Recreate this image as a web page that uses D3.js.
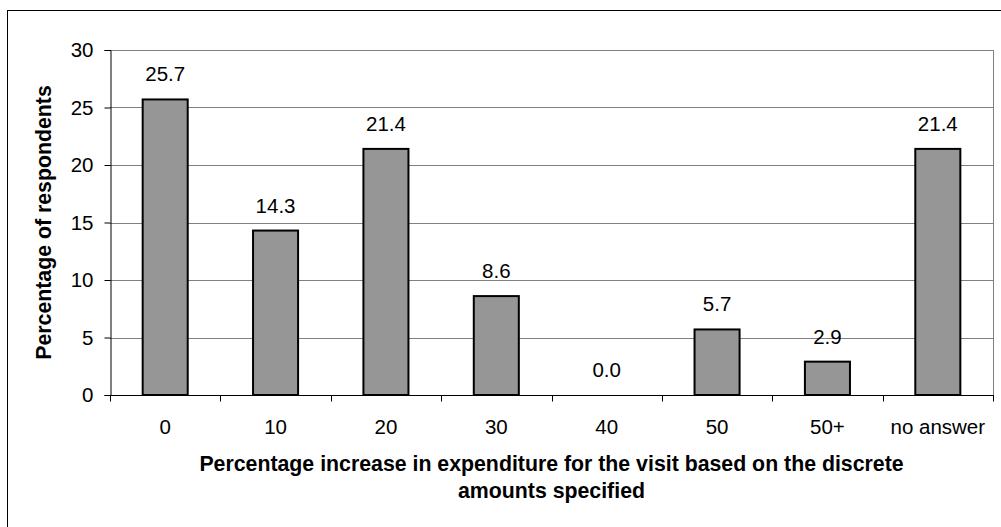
<!DOCTYPE html>
<html>
<head>
<meta charset="utf-8">
<script src="https://cdn.jsdelivr.net/npm/d3@7"></script>
<style>
  html, body { margin: 0; padding: 0; background: #fff; }
  svg { display: block; font-family: "Liberation Sans", Arial, sans-serif; }
</style>
</head>
<body>
<svg id="chart" width="1001" height="527"></svg>
<script>
// Survey responses: share of respondents per stated increase in spending
const categories = ["0", "10", "20", "30", "40", "50", "50+", "no answer"];
const percentages = [25.7, 14.3, 21.4, 8.6, 0.0, 5.7, 2.9, 21.4];
const yTicks = [0, 5, 10, 15, 20, 25, 30];
const xTitleLines = [
  "Percentage increase in expenditure for the visit based on the discrete",
  "amounts specified"
];
const yTitle = "Percentage of respondents";

const svg = d3.select("#chart");
const plot = { left: 110, right: 993, top: 50, bottom: 395 };
const labelSize = 20.5;
const titleSize = 21.3;

// Outer chart frame
svg.append("rect")
  .attr("x", 7.5).attr("y", 10.5)
  .attr("width", 1000).attr("height", 530)
  .attr("fill", "#fff").attr("stroke", "#000").attr("stroke-width", 1);

const x = d3.scaleBand()
  .domain(categories)
  .range([plot.left, plot.right])
  .paddingInner(0.592)
  .paddingOuter(0.296);

const y = d3.scaleLinear()
  .domain([0, 30])
  .range([plot.bottom, plot.top]);

// Horizontal gridlines
svg.append("g")
  .selectAll("line")
  .data(yTicks.filter(d => d > 0))
  .join("line")
  .attr("x1", plot.left).attr("x2", plot.right)
  .attr("y1", d => Math.round(y(d)) + 0.5).attr("y2", d => Math.round(y(d)) + 0.5)
  .attr("stroke", "#808080").attr("stroke-width", 1);

// Right edge of plot area
svg.append("line")
  .attr("x1", plot.right + 0.5).attr("x2", plot.right + 0.5)
  .attr("y1", y(30)).attr("y2", plot.bottom)
  .attr("stroke", "#808080").attr("stroke-width", 1);

// Bars
svg.append("g")
  .selectAll("rect")
  .data(categories.map((c, i) => ({ c, v: percentages[i] })))
  .join("rect")
  .attr("x", d => x(d.c))
  .attr("y", d => y(d.v))
  .attr("width", x.bandwidth())
  .attr("height", d => y(0) - y(d.v))
  .attr("fill", "#969696")
  .attr("stroke", "#000")
  .attr("stroke-width", 2);

// Value labels
svg.append("g")
  .selectAll("text")
  .data(categories.map((c, i) => ({ c, v: percentages[i] })))
  .join("text")
  .attr("x", d => x(d.c) + x.bandwidth() / 2)
  .attr("y", d => y(d.v) - 18)
  .attr("text-anchor", "middle")
  .attr("font-size", labelSize)
  .attr("fill", "#000")
  .text(d => d.v.toFixed(1));

// Y axis
const yAxis = d3.axisLeft(y).tickValues(yTicks).tickSize(6).tickPadding(11);
const gy = svg.append("g")
  .attr("transform", `translate(${plot.left + 0.5},0)`)
  .call(yAxis);
gy.select(".domain").attr("stroke", "#000");
gy.selectAll(".tick line").attr("stroke", "#000");
gy.selectAll(".tick text")
  .attr("font-size", labelSize).attr("font-family", "Liberation Sans, Arial, sans-serif")
  .attr("fill", "#000");

// X axis: ticks sit on the category boundaries
const gx = svg.append("g")
  .attr("transform", `translate(0,${plot.bottom + 0.5})`);
gx.append("line")
  .attr("x1", plot.left).attr("x2", plot.right + 1)
  .attr("stroke", "#000");
const boundaries = categories.map(c => x(c) - x.step() * x.paddingOuter()).concat([plot.right]);
gx.selectAll("line.tick")
  .data(boundaries)
  .join("line")
  .attr("class", "tick")
  .attr("x1", d => Math.round(d) + 0.5).attr("x2", d => Math.round(d) + 0.5)
  .attr("y1", 0).attr("y2", 6)
  .attr("stroke", "#000");
gx.selectAll("text")
  .data(categories)
  .join("text")
  .attr("x", d => x(d) + x.bandwidth() / 2)
  .attr("y", 38)
  .attr("text-anchor", "middle")
  .attr("font-size", labelSize)
  .attr("fill", "#000")
  .text(d => d);

// Axis titles
svg.append("g")
  .selectAll("text")
  .data(xTitleLines)
  .join("text")
  .attr("x", (plot.left + plot.right) / 2)
  .attr("y", (d, i) => 471 + i * 27)
  .attr("text-anchor", "middle")
  .attr("font-size", titleSize)
  .attr("font-weight", "bold")
  .attr("fill", "#000")
  .text(d => d);

svg.append("text")
  .attr("transform", `translate(51,${(plot.top + plot.bottom) / 2}) rotate(-90)`)
  .attr("text-anchor", "middle")
  .attr("font-size", titleSize)
  .attr("font-weight", "bold")
  .attr("fill", "#000")
  .text(yTitle);
</script>
</body>
</html>
